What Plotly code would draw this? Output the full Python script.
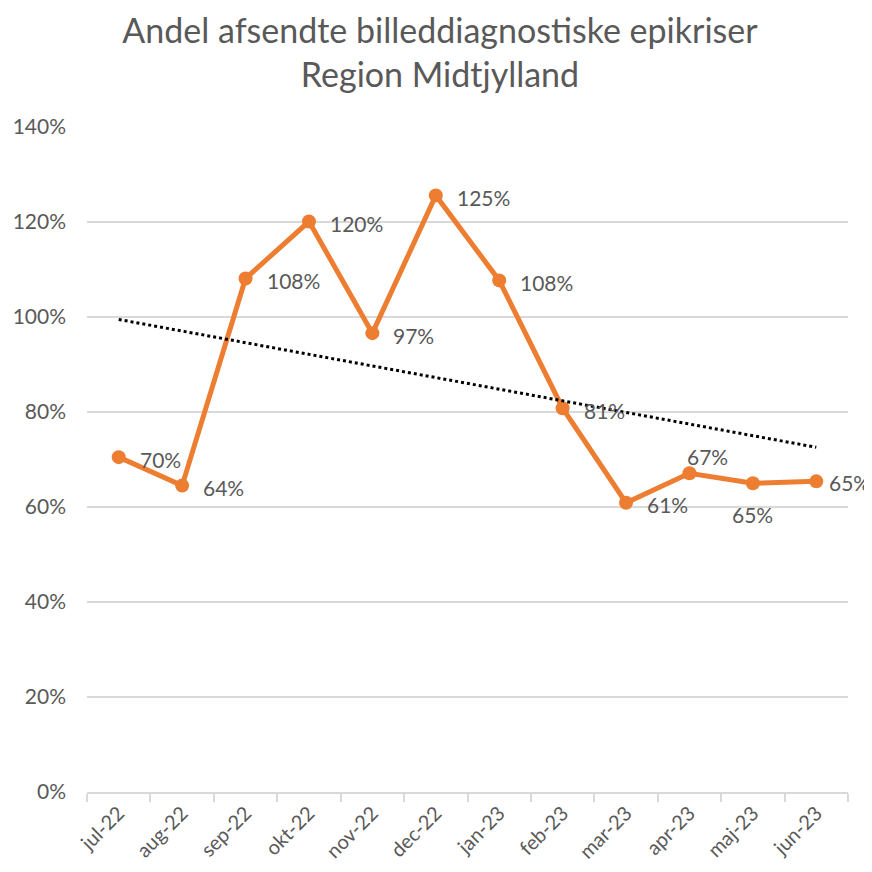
import numpy as np
import plotly.graph_objects as go

months = ["jul-22", "aug-22", "sep-22", "okt-22", "nov-22", "dec-22",
          "jan-23", "feb-23", "mar-23", "apr-23", "maj-23", "jun-23"]
andel = [0.705, 0.645, 1.081, 1.201, 0.966, 1.256,
         1.077, 0.808, 0.609, 0.671, 0.650, 0.654]
labels = ["70%", "64%", "108%", "120%", "97%", "125%",
          "108%", "81%", "61%", "67%", "65%", "65%"]

# label placement (Excel-ish): right of point, apr above, maj below, jun tight right
label_pos = ["r", "r", "r", "r", "r", "r", "r", "r", "r", "a", "b", "e"]

ORANGE = "#ED7D31"
GREY_TXT = "#595959"
GRID = "#D9D9D9"
FONT = "Lato"

# linear trendline like in Excel
idx = np.arange(len(andel))
slope, intercept = np.polyfit(idx, andel, 1)
trend = slope * idx + intercept

fig = go.Figure()
fig.add_trace(go.Scatter(x=months, y=andel, mode="lines+markers",
                         line=dict(color=ORANGE, width=5),
                         marker=dict(color=ORANGE, size=14),
                         showlegend=False, hoverinfo="skip"))
fig.add_trace(go.Scatter(x=months, y=trend, mode="lines",
                         line=dict(color="black", width=3, dash="dot"),
                         showlegend=False, hoverinfo="skip"))

for m, v, t, p in zip(months, andel, labels, label_pos):
    if p == "r":
        kw = dict(xanchor="left", yanchor="middle", xshift=19, yshift=-2)
    elif p == "e":
        kw = dict(xanchor="left", yanchor="middle", xshift=11, yshift=-1)
    elif p == "a":
        kw = dict(xanchor="left", yanchor="bottom", xshift=-4, yshift=2)
    else:
        kw = dict(xanchor="center", yanchor="top", xshift=0, yshift=-17)
    fig.add_annotation(x=m, y=v, text=t, showarrow=False,
                       font=dict(family=FONT, size=21, color=GREY_TXT), **kw)

# page body has an 8px default margin, so the figure is 864 wide/high
fig.update_layout(
    width=864, height=864,
    margin=dict(l=79, r=24, t=119, b=80, autoexpand=False),
    paper_bgcolor="white", plot_bgcolor="white",
    title=dict(text="Andel afsendte billeddiagnostiske epikriser<br>Region Midtjylland",
               x=0.5, xref="container", xanchor="center",
               y=0.96, yref="container", yanchor="top",
               font=dict(family=FONT, size=34, color=GREY_TXT)),
    font=dict(family=FONT, color=GREY_TXT),
)
fig.update_yaxes(range=[0, 1.4], dtick=0.2, tickformat=".0%",
                 showgrid=True, gridcolor=GRID, gridwidth=1.5,
                 zeroline=False, showline=False, automargin=False,
                 tickfont=dict(family=FONT, size=21, color=GREY_TXT),
                 ticks="", ticklabelstandoff=20)
fig.update_xaxes(type="category", tickangle=-45, tickson="boundaries",
                 ticks="outside", ticklen=8, tickcolor=GRID, tickwidth=1.5,
                 showline=True, linecolor=GRID, linewidth=1.5,
                 showgrid=False, range=[-0.5, 11.5], automargin=False,
                 tickfont=dict(family=FONT, size=20, color=GREY_TXT))

fig.write_html("out.html")
